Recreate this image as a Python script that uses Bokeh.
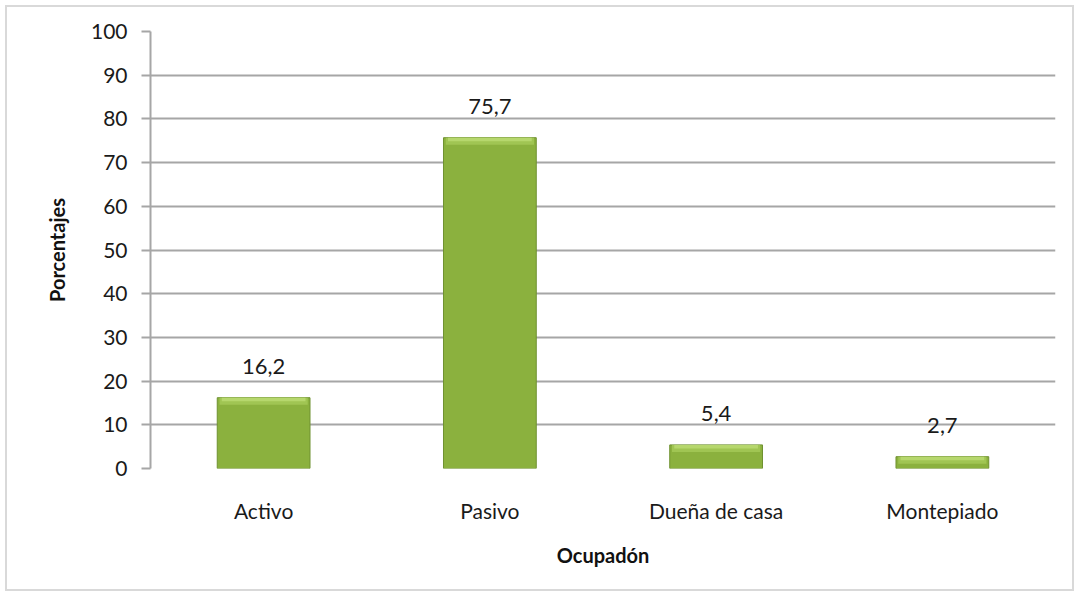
from bokeh.plotting import figure
from bokeh.models import ColumnDataSource, FixedTicker, Range1d
from bokeh.embed import file_html
from bokeh.resources import INLINE
from bokeh.core.properties import value

categories = ["Activo", "Pasivo", "Dueña de casa", "Montepiado"]
values = [16.2, 75.7, 5.4, 2.7]
y_ticks = [0, 10, 20, 30, 40, 50, 60, 70, 80, 90, 100]

labels = [f"{v:.1f}".replace(".", ",") for v in values]
bevel = 1.6
src = ColumnDataSource(dict(
    cat=categories, val=values, lab=labels,
    bev_bottom=[max(v - bevel, 0) for v in values],
    bev_mid=[max(v - bevel / 2, 0) for v in values],
))

FONT = "Lato"
p = figure(x_range=categories, y_range=Range1d(0, 100),
           width=1069, height=586, output_backend="svg", toolbar_location=None,
           min_border_left=143, min_border_right=21, min_border_top=24,
           min_border_bottom=125)
p.styles = {"border": "2px solid #d9d9d9", "margin-left": "5px", "margin-top": "5px"}
p.outline_line_color = None

# main bars
p.vbar(x="cat", top="val", bottom=0, width=0.41, source=src,
       fill_color="#8bb13e", line_color="#6f9130", line_width=1)
# bevel highlight on top
p.vbar(x="cat", top="val", bottom="bev_bottom", width=0.39, source=src,
       fill_color="#a0c553", line_color=None)
p.vbar(x="cat", top="val", bottom="bev_mid", width=0.37, source=src,
       fill_color="#b6d76d", line_color=None)

p.text(x="cat", y="val", text="lab", source=src, y_offset=-24,
       text_align="center", text_baseline="bottom",
       text_font=value(FONT), text_font_size="22px", text_color="#1a1a1a")

p.yaxis.ticker = FixedTicker(ticks=y_ticks)
p.yaxis.axis_line_color = "#a6a6a6"
p.yaxis.axis_line_width = 2
p.yaxis.major_tick_line_color = "#a6a6a6"
p.yaxis.major_tick_line_width = 2
p.yaxis.major_tick_in = 0
p.yaxis.major_tick_out = 9
p.yaxis.minor_tick_line_color = None
p.yaxis.major_label_standoff = 14
p.yaxis.major_label_text_font = FONT
p.yaxis.major_label_text_font_size = "21px"
p.yaxis.major_label_text_color = "#1a1a1a"
p.yaxis.axis_label = "Porcentajes"
p.yaxis.axis_label_text_font = FONT
p.yaxis.axis_label_text_font_style = "bold"
p.yaxis.axis_label_text_font_size = "20px"
p.yaxis.axis_label_text_color = "#111111"
p.yaxis.axis_label_standoff = 19

p.xaxis.axis_line_color = None
p.xaxis.major_tick_line_color = None
p.xaxis.minor_tick_line_color = None
p.xaxis.major_label_standoff = 23
p.xaxis.major_label_text_font = FONT
p.xaxis.major_label_text_font_size = "21px"
p.xaxis.major_label_text_color = "#1a1a1a"
p.xaxis.axis_label = "Ocupadón"
p.xaxis.axis_label_text_font = FONT
p.xaxis.axis_label_text_font_style = "bold"
p.xaxis.axis_label_text_font_size = "20px"
p.xaxis.axis_label_text_color = "#111111"
p.xaxis.axis_label_standoff = 17

p.xgrid.grid_line_color = None
p.ygrid.ticker = FixedTicker(ticks=y_ticks)
p.ygrid.grid_line_color = "#a6a6a6"
p.ygrid.grid_line_width = 2
p.ygrid.level = "underlay"

open("out.html", "w").write(file_html(p, INLINE))
